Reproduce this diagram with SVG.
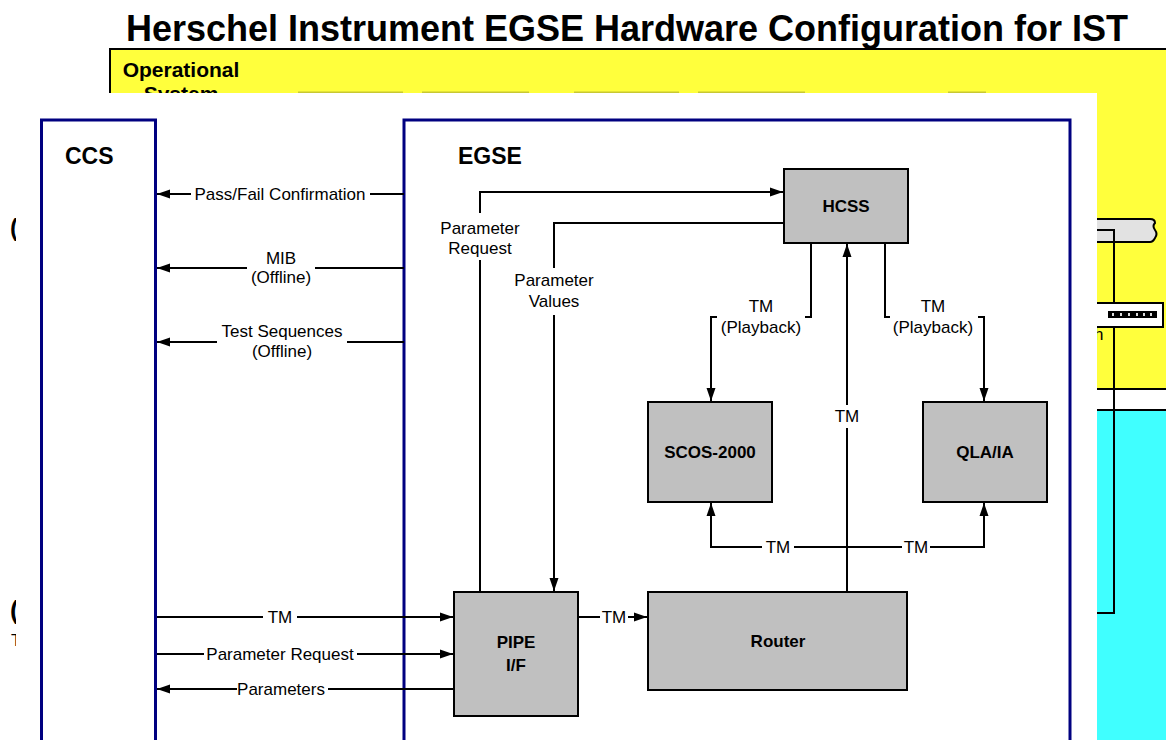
<svg xmlns="http://www.w3.org/2000/svg" width="1166" height="740" viewBox="0 0 1166 740">
<style>
.t{font-family:"Liberation Sans",Arial,sans-serif;font-size:17px;fill:#000}
.b{font-family:"Liberation Sans",Arial,sans-serif;font-weight:bold;fill:#000}
.n{fill:#c0c0c0;stroke:#000;stroke-width:2}
.c{fill:none;stroke:#000;stroke-width:2}
.sys{fill:#fff;stroke:#000080;stroke-width:3}
</style>
<defs>
<marker id="arr" markerWidth="14" markerHeight="10" refX="13" refY="5" orient="auto" markerUnits="userSpaceOnUse"><path d="M0,0.5 L13,5 L0,9.5 z" fill="#000"/></marker>
</defs>
<rect width="1166" height="740" fill="#fff"/>
<text x="627" y="41" class="b" font-size="36" text-anchor="middle">Herschel Instrument EGSE Hardware Configuration for IST</text>
<g id="background">
<rect x="110" y="49" width="1070" height="340" fill="#ffff3c" stroke="#000" stroke-width="2"/>
<rect x="110" y="410" width="1070" height="340" fill="#40ffff" stroke="#000" stroke-width="2"/>
<g fill="#c8c832">
<rect x="298" y="91.5" width="105" height="1.5"/>
<rect x="422" y="91.5" width="107" height="1.5"/>
<rect x="574" y="91.5" width="105" height="1.5"/>
<rect x="698" y="91.5" width="107" height="1.5"/>
<rect x="948" y="91.5" width="38" height="1.5"/>
</g>
<text x="181" y="77" class="b" font-size="21" text-anchor="middle">Operational</text>
<text x="181" y="101" class="b" font-size="21" text-anchor="middle">System</text>
<path d="M1060,219 H1150 q5,0 5,4 q-3,3 0,7 q3,4 0,8 q-2,4 -5,4 H1060 Z" fill="#e2e2e2" stroke="#000" stroke-width="2"/>
<path d="M1060,230 H1114 V613 H1060" fill="none" stroke="#000" stroke-width="2"/>
<rect x="1060" y="303" width="103" height="24" fill="#fff" stroke="#000" stroke-width="2"/>
<rect x="1108" y="311" width="49" height="7" fill="#000"/>
<g fill="#ddd"><rect x="1112" y="313" width="2" height="3"/><rect x="1120" y="313" width="2" height="3"/><rect x="1128" y="313" width="2" height="3"/><rect x="1136" y="313" width="2" height="3"/><rect x="1143" y="313" width="2" height="3"/><rect x="1150" y="313" width="2" height="3"/></g>
<text x="1094" y="340" class="t" font-size="11">h</text>
<text x="10" y="236" class="b" font-size="24">(</text>
<text x="10" y="619" class="b" font-size="26">(</text>
<text x="11" y="646" class="t" font-size="12">T</text>
</g>
<rect id="overlay" x="16" y="93" width="1081" height="660" fill="#fff"/>
<g id="ccs">
<rect class="sys" x="41.5" y="120" width="114" height="660"/>
<text x="65" y="164" class="b" font-size="23">CCS</text>
</g>
<g id="egse">
<rect class="sys" x="404" y="120" width="666" height="660"/>
<text x="458" y="164" class="b" font-size="23">EGSE</text>
</g>
<g id="hcss">
<rect class="n" x="784" y="169" width="124" height="74"/>
<text x="846" y="212" class="b" font-size="17" text-anchor="middle">HCSS</text>
</g>
<g id="scos">
<rect class="n" x="648" y="402" width="124" height="100"/>
<text x="710" y="458" class="b" font-size="17" text-anchor="middle">SCOS-2000</text>
</g>
<g id="qla">
<rect class="n" x="923" y="402" width="124" height="100"/>
<text x="985" y="458" class="b" font-size="17" text-anchor="middle">QLA/IA</text>
</g>
<g id="pipe">
<rect class="n" x="454" y="592" width="124" height="124"/>
<text x="516" y="648" class="b" font-size="17" text-anchor="middle">PIPE</text>
<text x="516" y="671" class="b" font-size="17" text-anchor="middle">I/F</text>
</g>
<g id="router">
<rect class="n" x="648" y="592" width="259" height="98"/>
<text x="778" y="647" class="b" font-size="17" text-anchor="middle">Router</text>
</g>
<g id="connectors">
<path class="c" d="M404,194 H370"/><path class="c" d="M191,194 H157" marker-end="url(#arr)"/>
<path class="c" d="M404,268 H315"/><path class="c" d="M247,268 H157" marker-end="url(#arr)"/>
<path class="c" d="M404,342 H347"/><path class="c" d="M217,342 H157" marker-end="url(#arr)"/>
<path class="c" d="M157,617 H263"/><path class="c" d="M297,617 H453" marker-end="url(#arr)"/>
<path class="c" d="M157,654 H204"/><path class="c" d="M357,654 H453" marker-end="url(#arr)"/>
<path class="c" d="M453,689 H328"/><path class="c" d="M237,689 H157" marker-end="url(#arr)"/>
<path class="c" d="M578,617 H600"/><path class="c" d="M628,617 H647" marker-end="url(#arr)"/>
<path class="c" d="M480,592 V260"/><path class="c" d="M480,213 V192 H783" marker-end="url(#arr)"/>
<path class="c" d="M784,223 H554 V268"/><path class="c" d="M554,315 V591" marker-end="url(#arr)"/>
<path class="c" d="M811,243 V317 H805"/><path class="c" d="M717,317 H711 V401" marker-end="url(#arr)"/>
<path class="c" d="M885,243 V317 H890"/><path class="c" d="M978,317 H984 V401" marker-end="url(#arr)"/>
<path class="c" d="M847,592 V428"/><path class="c" d="M847,405 V244" marker-end="url(#arr)"/>
<path class="c" d="M847,547 H794"/><path class="c" d="M762,547 H711 V503" marker-end="url(#arr)"/>
<path class="c" d="M847,547 H902"/><path class="c" d="M930,547 H984 V503" marker-end="url(#arr)"/>
<text x="280" y="200" class="t" text-anchor="middle">Pass/Fail Confirmation</text>
<text x="281" y="264" class="t" text-anchor="middle">MIB</text>
<text x="281" y="283" class="t" text-anchor="middle">(Offline)</text>
<text x="282" y="337" class="t" text-anchor="middle">Test Sequences</text>
<text x="282" y="357" class="t" text-anchor="middle">(Offline)</text>
<text x="280" y="623" class="t" text-anchor="middle">TM</text>
<text x="280" y="660" class="t" text-anchor="middle">Parameter Request</text>
<text x="281" y="695" class="t" text-anchor="middle">Parameters</text>
<text x="614" y="623" class="t" text-anchor="middle">TM</text>
<text x="480" y="234" class="t" text-anchor="middle">Parameter</text>
<text x="480" y="254" class="t" text-anchor="middle">Request</text>
<text x="554" y="286" class="t" text-anchor="middle">Parameter</text>
<text x="554" y="307" class="t" text-anchor="middle">Values</text>
<text x="761" y="312" class="t" text-anchor="middle">TM</text>
<text x="761" y="333" class="t" text-anchor="middle">(Playback)</text>
<text x="933" y="312" class="t" text-anchor="middle">TM</text>
<text x="933" y="333" class="t" text-anchor="middle">(Playback)</text>
<text x="847" y="422" class="t" text-anchor="middle">TM</text>
<text x="778" y="553" class="t" text-anchor="middle">TM</text>
<text x="916" y="553" class="t" text-anchor="middle">TM</text>
</g>
</svg>
